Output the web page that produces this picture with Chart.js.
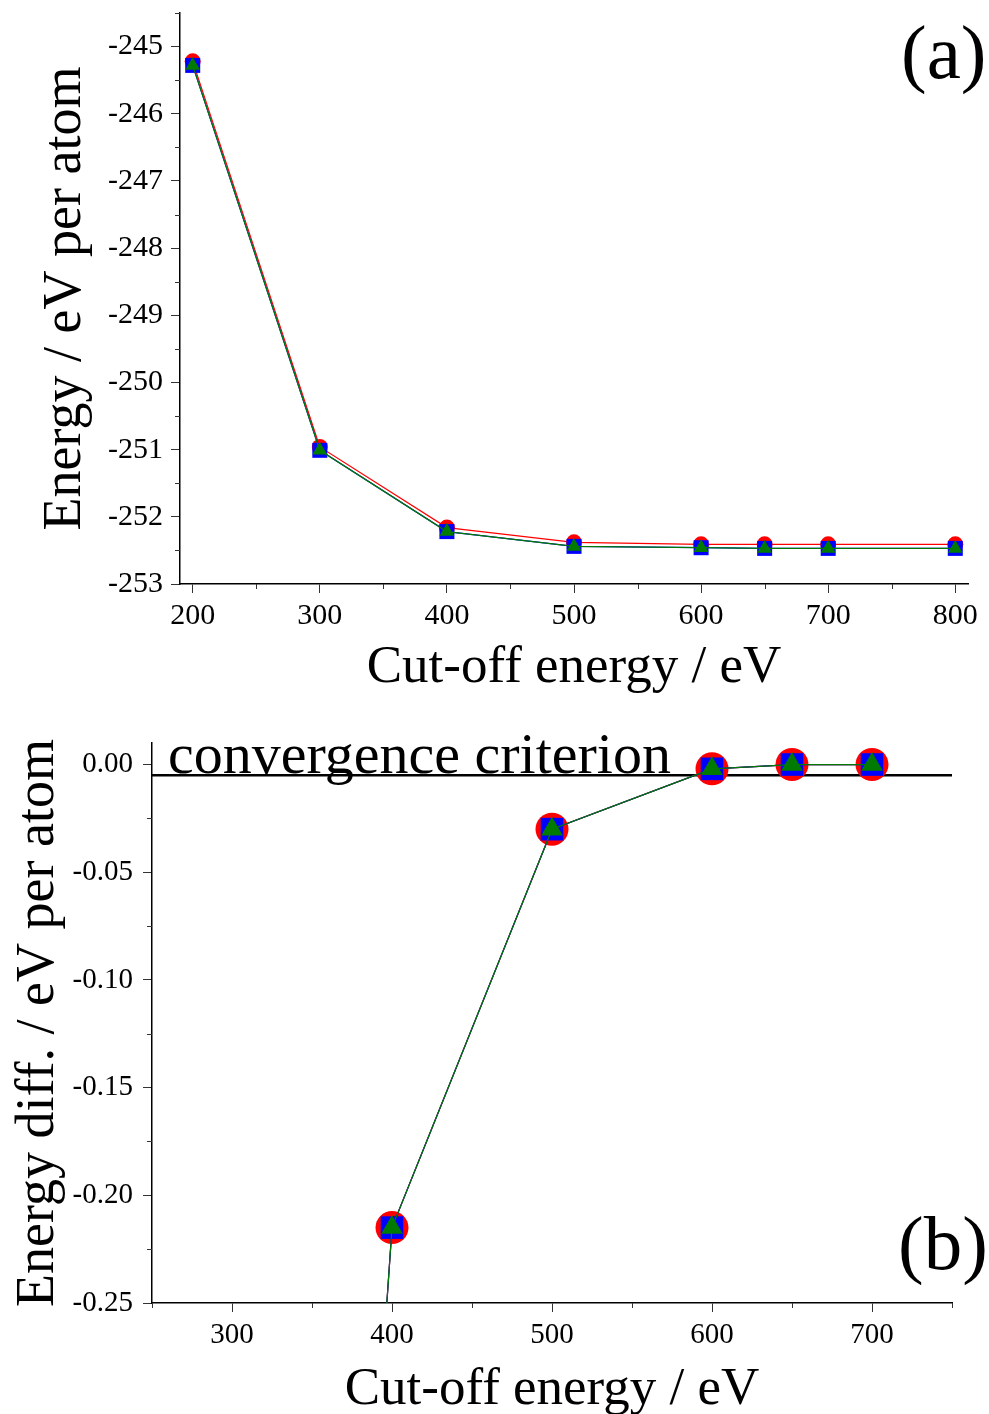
<!DOCTYPE html>
<html><head><meta charset="utf-8">
<script src="https://cdn.jsdelivr.net/npm/chart.js@4.4.1/dist/chart.umd.min.js"></script>
<style>
html,body{margin:0;padding:0;background:#fff;overflow:hidden;width:989px;height:1414px;}
#ca{position:absolute;left:0;top:0;}
#cb{position:absolute;left:0;top:700px;}
.lbl{position:absolute;font-family:"Liberation Serif",serif;color:#000;line-height:1;white-space:nowrap;}
</style></head><body>
<canvas id="ca" width="989" height="700"></canvas>
<canvas id="cb" width="989" height="760"></canvas>
<div class="lbl" style="left:901px;top:14px;font-size:77px">(a)</div>
<div class="lbl" style="left:898px;top:1205px;font-size:77px">(b)</div>
<div class="lbl" style="left:168px;top:725px;font-size:58px">convergence criterion</div>
<script>
// ---- Panel (a): total energy vs cut-off ----
const cutoffA = [200, 300, 400, 500, 600, 650, 700, 800];
const energyRed   = [-245.22, -250.96, -252.16, -252.38, -252.41, -252.41, -252.41, -252.41];
const energyBlue  = [-245.28, -251.01, -252.22, -252.44, -252.46, -252.47, -252.47, -252.47];
const energyGreen = [-245.28, -251.01, -252.22, -252.44, -252.46, -252.47, -252.47, -252.47];
const xTicksA = [200, 300, 400, 500, 600, 700, 800];
const xMinorA = [250, 350, 450, 550, 650, 750];
const yTicksA = [-253, -252, -251, -250, -249, -248, -247, -246, -245];
const yMinorA = [-252.5, -251.5, -250.5, -249.5, -248.5, -247.5, -246.5, -245.5, -244.5];
const xRangeA = [190, 810];
const yRangeA = [-253, -244.5];

// ---- Panel (b): energy difference vs cut-off ----
const cutoffB = [300, 400, 500, 600, 650, 700];
const diffRed   = [-1.30, -0.215, -0.030, -0.002, 0.000, 0.000];
const diffBlue  = [-1.30, -0.215, -0.030, -0.002, 0.000, 0.000];
const diffGreen = [-1.30, -0.215, -0.030, -0.002, 0.000, 0.000];
const criterion = -0.005;
const xTicksB = [300, 400, 500, 600, 700];
const xMinorB = [250, 350, 450, 550, 650, 750];
const yTicksB = [-0.25, -0.20, -0.15, -0.10, -0.05, 0.00];
const yMinorB = [-0.225, -0.175, -0.125, -0.075, -0.025];
const xRangeB = [250, 750];
const yRangeB = [-0.25, 0.01];

const FONT = 'Liberation Serif';
const RED = '#ff0000', BLUE = '#0000ff', GREEN = '#007a00';

const minorTicks = {
  id: 'minorTicks',
  afterDraw(chart, args, opts) {
    const ctx = chart.ctx, xs = chart.scales.x, ys = chart.scales.y;
    ctx.save();
    ctx.strokeStyle = '#333'; ctx.lineWidth = 1;
    (opts.x || []).forEach(v => {
      const p = Math.round(xs.getPixelForValue(v)) + 0.5;
      ctx.beginPath(); ctx.moveTo(p, xs.top); ctx.lineTo(p, xs.top + opts.len); ctx.stroke();
    });
    (opts.y || []).forEach(v => {
      const p = Math.round(ys.getPixelForValue(v)) + 0.5;
      ctx.beginPath(); ctx.moveTo(ys.right, p); ctx.lineTo(ys.right - opts.len, p); ctx.stroke();
    });
    ctx.restore();
  }
};

function zeroPad(s) { s.paddingLeft = 0; s.paddingRight = 0; s.paddingTop = 0; s.paddingBottom = 0; }

function pts(xs, ys) { return xs.map((x, i) => ({x: x, y: ys[i]})); }

function series(data, color, style, radius, order, clip) {
  const d = {
    data: data, borderColor: color, backgroundColor: color, borderWidth: 1.2,
    showLine: true, pointStyle: style, pointRadius: radius, pointHoverRadius: radius,
    pointBorderWidth: 0, pointBackgroundColor: color, order: order
  };
  if (clip !== undefined) d.clip = clip;
  return d;
}

function axisCommon(ticks, fmt, tickFont, padding) {
  return {
    grid: {drawOnChartArea: false, drawTicks: true, tickLength: 9, color: '#333', lineWidth: 1},
    border: {display: true, color: '#000', width: 1.5},
    ticks: {color: '#000', font: {family: FONT, size: tickFont}, padding: padding, maxRotation: 0, autoSkip: false, callback: fmt},
    afterBuildTicks: s => { s.ticks = ticks.map(v => ({value: v})); }
  };
}

// Chart (a)
new Chart(document.getElementById('ca'), {
  type: 'scatter',
  data: { datasets: [
    series(pts(cutoffA, energyGreen), GREEN, 'triangle', 8.5, 1),
    series(pts(cutoffA, energyBlue), BLUE, 'rect', 10.6, 2),
    series(pts(cutoffA, energyRed), RED, 'circle', 8, 3)
  ]},
  options: {
    responsive: false, animation: false, devicePixelRatio: 1,
    layout: {padding: {left: 0, top: 13, right: 21, bottom: 0}},
    plugins: {legend: {display: false}, tooltip: {enabled: false},
      minorTicks: {x: xMinorA, y: yMinorA, len: 5}},
    scales: {
      x: Object.assign(axisCommon(xTicksA, v => String(v), 30, 5), {
        type: 'linear', min: xRangeA[0], max: xRangeA[1],
        afterFit: s => { s.height = 116; zeroPad(s); },
        title: {display: true, text: 'Cut-off energy / eV', color: '#000', font: {family: FONT, size: 53}, padding: {top: 0, bottom: 0}}
      }),
      y: Object.assign(axisCommon(yTicksA, v => String(v), 30, 8), {
        type: 'linear', min: yRangeA[0], max: yRangeA[1],
        afterFit: s => { s.width = 180; zeroPad(s); },
        title: {display: true, text: 'Energy / eV per atom', color: '#000', font: {family: FONT, size: 54}, padding: {top: 33, bottom: 0}}
      })
    }
  },
  plugins: [minorTicks]
});

// Chart (b)
new Chart(document.getElementById('cb'), {
  type: 'scatter',
  data: { datasets: [
    series(pts(cutoffB, diffGreen), GREEN, 'triangle', 12.5, 1, 0),
    series(pts(cutoffB, diffBlue), BLUE, 'rect', 16, 2, 0),
    series(pts(cutoffB, diffRed), RED, 'circle', 16.5, 3, 0),
    {data: [{x: xRangeB[0], y: criterion}, {x: xRangeB[1], y: criterion}], showLine: true,
     borderColor: '#000', borderWidth: 2.5, pointRadius: 0, pointHoverRadius: 0, order: 10, clip: 0}
  ]},
  options: {
    responsive: false, animation: false, devicePixelRatio: 1,
    layout: {padding: {left: 0, top: 43, right: 37, bottom: 0}},
    plugins: {legend: {display: false}, tooltip: {enabled: false},
      minorTicks: {x: xMinorB, y: yMinorB, len: 5}},
    scales: {
      x: Object.assign(axisCommon(xTicksB, v => String(v), 29, 6), {
        type: 'linear', min: xRangeB[0], max: xRangeB[1],
        afterFit: s => { s.height = 157; zeroPad(s); },
        title: {display: true, text: 'Cut-off energy / eV', color: '#000', font: {family: FONT, size: 53}, padding: {top: 0, bottom: 38}}
      }),
      y: Object.assign(axisCommon(yTicksB, v => v.toFixed(2), 29, 10), {
        type: 'linear', min: yRangeB[0], max: yRangeB[1],
        afterFit: s => { s.width = 152; zeroPad(s); },
        title: {display: true, text: 'Energy diff. / eV per atom', color: '#000', font: {family: FONT, size: 54}, padding: {top: 6, bottom: 0}}
      })
    }
  },
  plugins: [minorTicks]
});
</script>
</body></html>
